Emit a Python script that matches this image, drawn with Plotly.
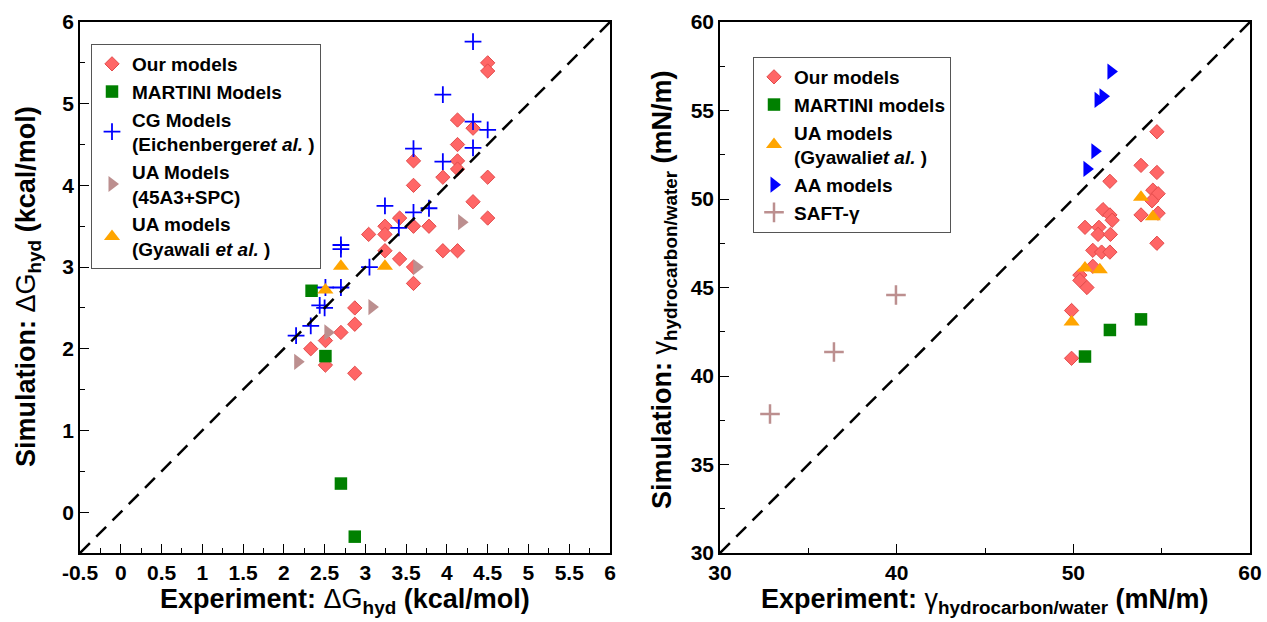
import plotly.graph_objects as go

# ---------------- data: left panel (hydration free energy) ----------------
our_x_L = [4.5, 4.5, 4.32, 4.13, 4.13, 4.13, 4.13, 3.95, 4.5, 3.59, 3.59, 4.32, 4.5, 3.95, 4.13,
           3.59, 3.78, 3.42, 3.24, 3.04, 3.24, 3.24, 3.42, 3.59, 3.59, 2.87, 2.87, 2.7, 2.51, 2.33, 2.51, 2.87]
our_y_L = [5.5, 5.4, 4.7, 4.8, 4.5, 4.3, 4.2, 4.1, 4.1, 4.3, 4.0, 3.8, 3.6, 3.2, 3.2,
           3.5, 3.5, 3.6, 3.5, 3.4, 3.4, 3.2, 3.1, 3.0, 2.8, 2.5, 2.3, 2.2, 2.1, 2.0, 1.8, 1.7]
martini_x_L = [2.34, 2.51, 2.7, 2.87]
martini_y_L = [2.71, 1.91, 0.35, -0.3]
cg_x_L = [4.32, 3.95, 4.32, 4.5, 4.32, 3.59, 3.95, 3.24, 3.59, 3.78, 3.41, 2.7, 2.7, 3.05, 2.51, 2.7,
          2.44, 2.5, 2.33, 2.15]
cg_y_L = [5.76, 5.11, 4.78, 4.68, 4.46, 4.45, 4.29, 3.75, 3.67, 3.72, 3.48, 3.27, 3.22, 3.0, 2.75, 2.75,
          2.53, 2.5, 2.28, 2.16]
ua45_x_L = [4.18, 3.63, 3.08, 2.54, 2.17]
ua45_y_L = [3.55, 3.0, 2.51, 2.2, 1.84]
gyawali_x_L = [2.7, 3.24, 2.51]
gyawali_y_L = [3.01, 3.01, 2.72]

# ---------------- data: right panel (interfacial tension) ----------------
our_x_R = [54.73, 53.83, 54.73, 52.07, 54.5, 54.8, 54.45, 53.83, 54.8, 51.68, 52.07, 52.2, 50.66, 51.45,
           51.4, 52.1, 51.1, 51.6, 52.07, 54.73, 51.1, 50.37, 50.37, 50.77, 49.9, 49.9]
our_y_R = [53.8, 51.9, 51.5, 51.0, 50.5, 50.3, 49.9, 49.1, 49.2, 49.4, 49.1, 48.8, 48.4, 48.4,
           48.0, 48.0, 47.1, 47.0, 47.0, 47.5, 46.2, 45.7, 45.4, 45.0, 43.7, 41.0]
martini_x_R = [50.66, 52.07, 53.83]
martini_y_R = [41.1, 42.6, 43.2]
gyawali_x_R = [53.83, 54.5, 50.66, 51.5, 49.9]
gyawali_y_R = [50.1, 49.0, 46.1, 46.0, 43.05]
aa_x_R = [52.13, 51.68, 51.4, 51.22, 50.77]
aa_y_R = [57.2, 55.8, 55.6, 52.7, 51.7]
saft_x_R = [32.83, 36.45, 39.96]
saft_y_R = [37.85, 41.36, 44.58]

# ---------------- ticks ----------------
xticks_L = [-0.5, 0, 0.5, 1, 1.5, 2, 2.5, 3, 3.5, 4, 4.5, 5, 5.5, 6]
xticklabels_L = ["-0.5", "0", "0.5", "1", "1.5", "2", "2.5", "3", "3.5", "4", "4.5", "5", "5.5", "6"]
yticks_L = [0, 1, 2, 3, 4, 5, 6]
yticklabels_L = ["0", "1", "2", "3", "4", "5", "6"]
xticks_R = [30, 40, 50, 60]
yticks_R = [30, 35, 40, 45, 50, 55, 60]

W, H = 1267, 622
FONT = "Liberation Sans"

RED = "#FF6666"
RED_EDGE = "#E24B4B"
GREEN = "#008000"
BLUE = "#0000FF"
BROWN = "#BC8F8F"
ORANGE = "#FFA500"

fig = go.Figure()

def leg(t):
    return "<b>" + t + "</b>"

# left panel traces
fig.add_trace(go.Scatter(x=our_x_L, y=our_y_L, mode="markers", name=leg("Our models"),
                         marker=dict(symbol="diamond", size=11, color=RED, line=dict(color=RED_EDGE, width=1)),
                         xaxis="x", yaxis="y", legend="legend"))
fig.add_trace(go.Scatter(x=martini_x_L, y=martini_y_L, mode="markers", name=leg("MARTINI Models"),
                         marker=dict(symbol="square", size=12.5, color=GREEN, line=dict(width=0)),
                         xaxis="x", yaxis="y", legend="legend"))
fig.add_trace(go.Scatter(x=cg_x_L, y=cg_y_L, mode="markers",
                         name=leg("CG Models<br>(Eichenberger<i>et al.</i> )"),
                         marker=dict(symbol="cross-thin", size=12, color=BLUE, line=dict(color=BLUE, width=1.8)),
                         xaxis="x", yaxis="y", legend="legend"))
fig.add_trace(go.Scatter(x=ua45_x_L, y=ua45_y_L, mode="markers", name=leg("UA Models<br>(45A3+SPC)"),
                         marker=dict(symbol="triangle-right", size=14, color=BROWN, line=dict(width=0)),
                         xaxis="x", yaxis="y", legend="legend"))
fig.add_trace(go.Scatter(x=gyawali_x_L, y=gyawali_y_L, mode="markers",
                         name=leg("UA models<br>(Gyawali <i>et al.</i> )"),
                         marker=dict(symbol="triangle-up", size=14, color=ORANGE, line=dict(width=0)),
                         xaxis="x", yaxis="y", legend="legend"))
fig.add_trace(go.Scatter(x=[xticks_L[0], xticks_L[-1]], y=[xticks_L[0], xticks_L[-1]], mode="lines",
                         line=dict(color="black", width=2.5, dash="14px,9px"), showlegend=False,
                         hoverinfo="skip", xaxis="x", yaxis="y"))

# right panel traces
fig.add_trace(go.Scatter(x=our_x_R, y=our_y_R, mode="markers", name=leg("Our models"),
                         marker=dict(symbol="diamond", size=11, color=RED, line=dict(color=RED_EDGE, width=1)),
                         xaxis="x2", yaxis="y2", legend="legend2"))
fig.add_trace(go.Scatter(x=martini_x_R, y=martini_y_R, mode="markers", name=leg("MARTINI models"),
                         marker=dict(symbol="square", size=12.5, color=GREEN, line=dict(width=0)),
                         xaxis="x2", yaxis="y2", legend="legend2"))
fig.add_trace(go.Scatter(x=gyawali_x_R, y=gyawali_y_R, mode="markers",
                         name=leg("UA models<br>(Gyawali<i>et al.</i> )"),
                         marker=dict(symbol="triangle-up", size=14, color=ORANGE, line=dict(width=0)),
                         xaxis="x2", yaxis="y2", legend="legend2"))
fig.add_trace(go.Scatter(x=aa_x_R, y=aa_y_R, mode="markers", name=leg("AA models"),
                         marker=dict(symbol="triangle-right", size=14, color=BLUE, line=dict(width=0)),
                         xaxis="x2", yaxis="y2", legend="legend2"))
fig.add_trace(go.Scatter(x=saft_x_R, y=saft_y_R, mode="markers", name=leg("SAFT-γ"),
                         marker=dict(symbol="cross-thin", size=14, color=BROWN, line=dict(color=BROWN, width=2.5)),
                         xaxis="x2", yaxis="y2", legend="legend2"))
fig.add_trace(go.Scatter(x=[xticks_R[0], xticks_R[-1]], y=[xticks_R[0], xticks_R[-1]], mode="lines",
                         line=dict(color="black", width=2.5, dash="14px,9px"), showlegend=False,
                         hoverinfo="skip", xaxis="x2", yaxis="y2"))

ydom = [69 / H, 600 / H]
axis_common = dict(showline=True, linecolor="black", linewidth=1.5, mirror=True, showgrid=False,
                   zeroline=False, ticks="inside", ticklen=9, tickwidth=1.3, tickcolor="black",
                   tickfont=dict(family=FONT, size=21, color="black", weight="bold"),
                   automargin=False)

fig.update_layout(
    width=W, height=H,
    margin=dict(l=0, r=0, t=0, b=0),
    paper_bgcolor="white", plot_bgcolor="white",
    font=dict(family=FONT, color="black"),
    xaxis=dict(domain=[80 / W, 610 / W], range=[-0.5, 6], tickmode="array", tickvals=xticks_L,
               ticktext=xticklabels_L, anchor="y",
               minor=dict(dtick=0.25, ticks="inside", ticklen=5, tickcolor="black", tickwidth=1.2),
               **axis_common),
    yaxis=dict(domain=ydom, range=[-0.5, 6], tickmode="array", tickvals=yticks_L, ticktext=yticklabels_L,
               anchor="x", minor=dict(dtick=0.5, tick0=0, ticks="inside", ticklen=5, tickcolor="black", tickwidth=1.2),
               **axis_common),
    xaxis2=dict(domain=[720 / W, 1250 / W], range=[30, 60], tickmode="array", tickvals=xticks_R,
                anchor="y2",
                minor=dict(dtick=5, tick0=30, ticks="inside", ticklen=5, tickcolor="black", tickwidth=1.2),
                **axis_common),
    yaxis2=dict(domain=ydom, range=[30, 60], tickmode="array", tickvals=yticks_R, anchor="x2",
                minor=dict(dtick=2.5, tick0=30, ticks="inside", ticklen=5, tickcolor="black", tickwidth=1.2),
                **axis_common),
    legend=dict(x=91 / W, y=1 - 44 / H, xanchor="left", yanchor="top", bgcolor="white",
                bordercolor="#555555", borderwidth=1,
                font=dict(family=FONT, size=19, color="black"), tracegroupgap=0, itemwidth=30),
    legend2=dict(x=753 / W, y=1 - 57 / H, xanchor="left", yanchor="top", bgcolor="white",
                 bordercolor="#555555", borderwidth=1,
                 font=dict(family=FONT, size=19, color="black"), tracegroupgap=0, itemwidth=30),
    showlegend=True,
)

title_font = dict(family=FONT, size=27, color="black")
fig.add_annotation(text="<b>Experiment: </b>ΔG<b><sub>hyd</sub> (kcal/mol)</b>", xref="paper", yref="paper",
                   x=345 / W, y=1 - 601 / H, showarrow=False, font=title_font, xanchor="center", yanchor="middle")
fig.add_annotation(text="<b>Simulation: </b>ΔG<b><sub>hyd</sub> (kcal/mol)</b>", xref="paper", yref="paper",
                   x=28 / W, y=1 - 287 / H, showarrow=False, font=title_font, textangle=-90,
                   xanchor="center", yanchor="middle")
fig.add_annotation(text="<b>Experiment: </b>γ<b><sub>hydrocarbon/water</sub> (mN/m)</b>", xref="paper", yref="paper",
                   x=985 / W, y=1 - 601 / H, showarrow=False, font=title_font, xanchor="center", yanchor="middle")
fig.add_annotation(text="<b>Simulation: </b>γ<b><sub>hydrocarbon/water</sub> (mN/m)</b>", xref="paper", yref="paper",
                   x=664 / W, y=1 - 290 / H, showarrow=False, font=title_font, textangle=-90,
                   xanchor="center", yanchor="middle")

fig.write_html("out.html")
